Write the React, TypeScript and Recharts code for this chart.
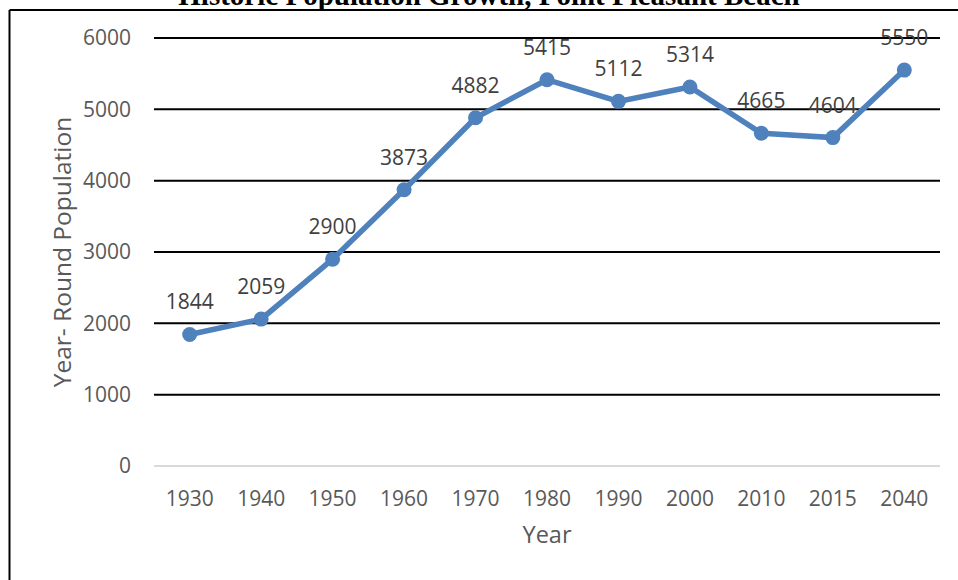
import { LabelList, Line, LineChart, ReferenceLine, XAxis, YAxis } from 'recharts';

const years = ['1930', '1940', '1950', '1960', '1970', '1980', '1990', '2000', '2010', '2015', '2040'];
const population = [1844, 2059, 2900, 3873, 4882, 5415, 5112, 5314, 4665, 4604, 5550];
const yTicks = [0, 1000, 2000, 3000, 4000, 5000, 6000];

const data = years.map((year, i) => ({ year, population: population[i] }));

const FONT = '"Open Sans", "Noto Sans", sans-serif';

export default function App() {
    return (
        <div style={{ position: 'relative', width: 958, height: 580, overflow: 'hidden', background: '#fff' }}>
            <style>{'body { margin: 0; }'}</style>
            <LineChart
                width={958}
                height={580}
                data={data}
                margin={{ top: 38, right: 18, bottom: 0, left: 0 }}
                style={{ position: 'absolute', left: 0, top: 0 }}
            >
                {yTicks
                    .filter((t) => t > 0)
                    .map((t) => (
                        <ReferenceLine key={t} y={t} stroke="#000" strokeWidth={2} ifOverflow="extendDomain" />
                    ))}
                <XAxis
                    dataKey="year"
                    height={114}
                    padding={{ left: 35.7, right: 35.7 }}
                    tickLine={false}
                    tickSize={0}
                    tickMargin={25}
                    axisLine={{ stroke: '#d9d9d9', strokeWidth: 2 }}
                    tick={{ fill: '#595959', fontSize: 21, fontFamily: FONT }}
                    label={{
                        value: 'Year',
                        position: 'insideBottom',
                        offset: 37,
                        fill: '#595959',
                        fontSize: 23.5,
                        fontFamily: FONT,
                    }}
                />
                <YAxis
                    width={154}
                    domain={[0, 6000]}
                    ticks={yTicks}
                    tickLine={false}
                    tickSize={0}
                    tickMargin={23}
                    axisLine={false}
                    tick={{ fill: '#595959', fontSize: 21, fontFamily: FONT }}
                    label={{
                        value: 'Year- Round Population',
                        angle: -90,
                        position: 'center',
                        dx: -15,
                        fill: '#595959',
                        fontSize: 24.5,
                        fontFamily: FONT,
                    }}
                />
                <Line
                    type="linear"
                    dataKey="population"
                    stroke="#4f81bd"
                    strokeWidth={5.5}
                    dot={{ r: 7.5, fill: '#4f81bd', stroke: '#4f81bd', strokeWidth: 0 }}
                    isAnimationActive={false}
                >
                    <LabelList
                        dataKey="population"
                        position="top"
                        offset={25}
                        fill="#404040"
                        fontSize={21}
                        fontFamily={FONT}
                    />
                </Line>
            </LineChart>
            <svg
                width={958}
                height={580}
                style={{ position: 'absolute', left: 0, top: 0, pointerEvents: 'none' }}
            >
                <text
                    x={489}
                    y={5}
                    textAnchor="middle"
                    fontFamily='"Liberation Serif", "Times New Roman", serif'
                    fontWeight="bold"
                    fontSize={29}
                    fill="#000"
                >
                    Historic Population Growth, Point Pleasant Beach
                </text>
                <line x1={9.5} y1={10} x2={9.5} y2={580} stroke="#000" strokeWidth={2} />
                <line x1={9.5} y1={10} x2={958} y2={10} stroke="#000" strokeWidth={2} />
            </svg>
        </div>
    );
}
